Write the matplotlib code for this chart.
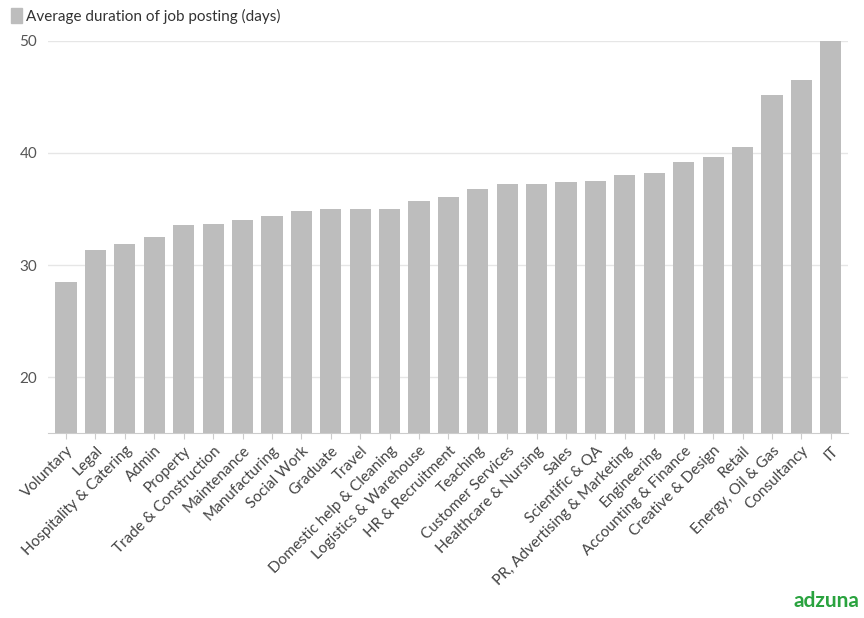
import matplotlib
matplotlib.use("Agg")
import matplotlib.pyplot as plt

categories = ["Voluntary", "Legal", "Hospitality & Catering", "Admin", "Property",
              "Trade & Construction", "Maintenance", "Manufacturing", "Social Work",
              "Graduate", "Travel", "Domestic help & Cleaning", "Logistics & Warehouse",
              "HR & Recruitment", "Teaching", "Customer Services", "Healthcare & Nursing",
              "Sales", "Scientific & QA", "PR, Advertising & Marketing", "Engineering",
              "Accounting & Finance", "Creative & Design", "Retail", "Energy, Oil & Gas",
              "Consultancy", "IT"]
durations = [28.5, 31.3, 31.9, 32.5, 33.6, 33.7, 34.0, 34.4, 34.8, 35.0, 35.0, 35.0,
             35.7, 36.1, 36.8, 37.2, 37.2, 37.4, 37.5, 38.0, 38.2, 39.2, 39.6, 40.5,
             45.2, 46.5, 50.5]
yticks = [20, 30, 40, 50]

plt.rcParams['font.family'] = ['Lato', 'DejaVu Sans']
fig = plt.figure(figsize=(8.64, 6.18), dpi=100)
ax = fig.add_axes([0.056, 0.299, 0.926, 0.635])

bar_color = "#bdbdbd"
ax.bar(range(len(categories)), durations, width=0.72, color=bar_color, zorder=2)
ax.set_ylim(15, 50)
ax.set_xlim(-0.6, len(categories) - 0.4)
ax.set_yticks(yticks)
ax.set_yticklabels([str(t) for t in yticks], color="#555555", fontsize=11)
ax.grid(axis="y", color="#e6e6e6", linewidth=1, zorder=0)
ax.set_xticks(range(len(categories)))
ax.set_xticklabels(categories, rotation=45, ha="right", rotation_mode="anchor",
                   fontsize=11, color="#444444")
ax.tick_params(axis="y", length=0, pad=8)
ax.tick_params(axis="x", length=4, color="#cccccc")
for s in ["top", "right", "left"]:
    ax.spines[s].set_visible(False)
ax.spines["bottom"].set_color("#cccccc")

# legend
fig.patches.append(plt.Rectangle((0.013, 0.962), 0.013, 0.025, transform=fig.transFigure,
                                 color=bar_color, figure=fig))
fig.text(0.03, 0.974, "Average duration of job posting (days)", fontsize=11,
         color="#333333", va="center")

fig.text(0.995, 0.028, "adzuna", fontsize=15, fontweight="bold", color="#2aa33f",
         ha="right", va="center")

fig.savefig("out.png", dpi=100)
